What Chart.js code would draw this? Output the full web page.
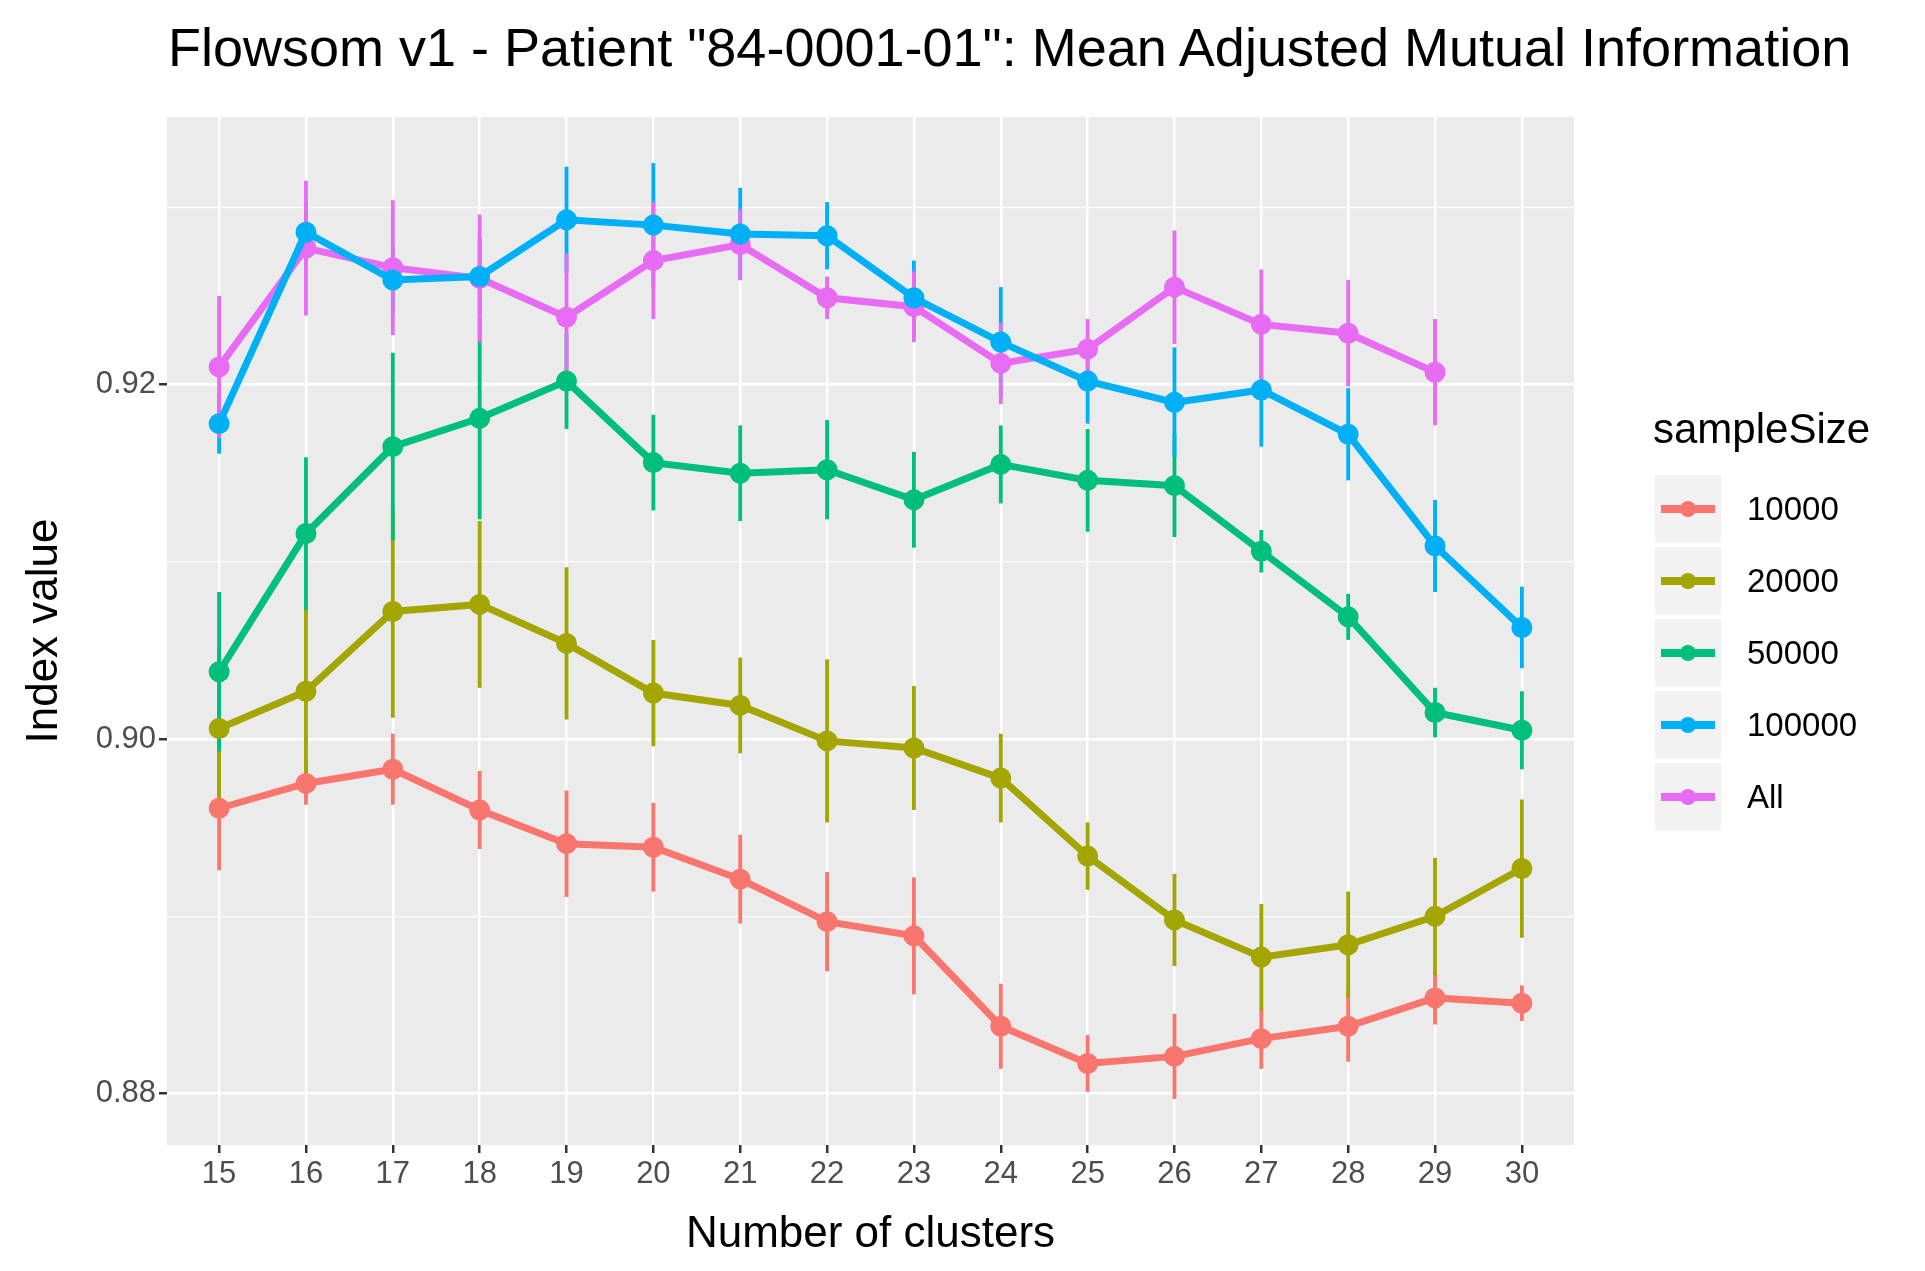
<!DOCTYPE html>
<html><head><meta charset="utf-8">
<script src="https://cdn.jsdelivr.net/npm/chart.js@4/dist/chart.umd.min.js"></script>
<style>
body{margin:0;background:#fff;font-family:"Liberation Sans",Arial,sans-serif}
#wrap{position:relative;width:1925px;height:1271px}
#title{position:absolute;left:168px;top:16px;font-size:54px;color:#000;white-space:nowrap}
#legend{position:absolute;left:1655px;top:405px}
#legend .hd{font-size:42px;margin-bottom:20px;margin-left:-2px}
#legend .row{display:flex;align-items:center;height:72px}
#legend .key{width:66px;height:68px;background:#f2f2f2;position:relative;margin-right:26px}
#legend .key i{position:absolute;left:6px;right:6px;top:30px;height:8px}
#legend .key b{position:absolute;left:25px;top:26px;width:16px;height:16px;border-radius:50%}
#legend span{font-size:33px}
</style></head><body>
<div id="wrap">
<canvas id="c" width="1925" height="1271"></canvas>
<div id="title">Flowsom v1 - Patient "84-0001-01": Mean Adjusted Mutual Information</div>
<div id="legend"></div>
</div>
<script>
const clusters = [15,16,17,18,19,20,21,22,23,24,25,26,27,28,29,30];
const seriesNames = ['10000','20000','50000','100000','All'];
const colors = ['#F8766D','#A3A500','#00BF7D','#00B0F6','#E76BF3'];
const mean10000 = [0.8961,0.8975,0.8983,0.8960,0.8941,0.8939,0.8921,0.8897,0.8889,0.8838,0.8817,0.8821,0.8831,0.8838,0.8854,0.8851];
const err10000  = [0.0035,0.0012,0.0020,0.0022,0.0030,0.0025,0.0025,0.0028,0.0033,0.0024,0.0016,0.0024,0.0017,0.0020,0.0015,0.0010];
const mean20000 = [0.9006,0.9027,0.9072,0.9076,0.9054,0.9026,0.9019,0.8999,0.8995,0.8978,0.8934,0.8898,0.8877,0.8884,0.8900,0.8927];
const err20000  = [0.0045,0.0048,0.0060,0.0047,0.0043,0.0030,0.0027,0.0046,0.0035,0.0025,0.0019,0.0026,0.0030,0.0030,0.0033,0.0039];
const mean50000 = [0.9038,0.9116,0.9165,0.9181,0.9202,0.9156,0.9150,0.9152,0.9135,0.9155,0.9146,0.9143,0.9106,0.9069,0.9015,0.9005];
const err50000  = [0.0045,0.0043,0.0053,0.0057,0.0027,0.0027,0.0027,0.0028,0.0027,0.0022,0.0029,0.0029,0.0012,0.0013,0.0014,0.0022];
const mean100000 = [0.9178,0.9286,0.9259,0.9261,0.9293,0.9290,0.9285,0.9284,0.9249,0.9224,0.9202,0.9190,0.9197,0.9172,0.9109,0.9063];
const err100000  = [0.0017,0.0017,0.0020,0.0022,0.0030,0.0035,0.0026,0.0019,0.0021,0.0031,0.0024,0.0031,0.0032,0.0026,0.0026,0.0023];
const meanAll = [0.9210,0.9277,0.9266,0.9260,0.9238,0.9270,0.9279,0.9249,0.9244,0.9212,0.9220,0.9255,0.9234,0.9229,0.9207];
const errAll  = [0.0040,0.0038,0.0038,0.0036,0.0036,0.0033,0.0020,0.0012,0.0020,0.0023,0.0017,0.0032,0.0031,0.0030,0.0030];
const means = [mean10000,mean20000,mean50000,mean100000,meanAll];
const errs = [err10000,err20000,err50000,err100000,errAll];
const yTickLabels = {0.88:'0.88',0.90:'0.90',0.92:'0.92'};

const datasets = seriesNames.map((n,i)=>({
  label:n,
  data:means[i].map((v,j)=>({x:clusters[j],y:v,e:errs[i][j]})),
  borderColor:colors[i], backgroundColor:colors[i],
  borderWidth:7, pointRadius:7, pointHoverRadius:7, tension:0
}));

const panelBg = {
  id:'panelBg',
  beforeDraw(ch){const a=ch.chartArea,c=ch.ctx;c.save();c.fillStyle='#EBEBEB';c.fillRect(a.left,a.top,a.right-a.left,a.bottom-a.top);c.restore();}
};
const errorBars = {
  id:'errorBars',
  beforeDatasetsDraw(ch){
    const c=ch.ctx,x=ch.scales.x,y=ch.scales.y;
    c.save();c.lineWidth=3.8;
    ch.data.datasets.forEach(ds=>{
      c.strokeStyle=ds.borderColor;
      ds.data.forEach(p=>{
        const px=x.getPixelForValue(p.x);
        c.beginPath();c.moveTo(px,y.getPixelForValue(p.y-p.e));c.lineTo(px,y.getPixelForValue(p.y+p.e));c.stroke();
      });
    });
    c.restore();
  }
};

new Chart(document.getElementById('c'),{
  type:'line',
  data:{datasets},
  plugins:[panelBg,errorBars],
  options:{
    responsive:false,animation:false,
    layout:{padding:{top:117,right:351,left:0,bottom:0}},
    plugins:{legend:{display:false},title:{display:false},tooltip:{enabled:false}},
    scales:{
      x:{type:'linear',min:14.4,max:30.6,
        afterBuildTicks(s){s.ticks=clusters.map(v=>({value:v}));},
        afterFit(s){s.height=126;},
        grid:{color:'#ffffff',lineWidth:2.5,tickColor:'#333333',tickLength:8},
        border:{display:false},
        ticks:{color:'#4d4d4d',font:{family:'Liberation Sans',size:31},padding:3,maxRotation:0},
        title:{display:true,text:'Number of clusters',color:'#000',font:{family:'Liberation Sans',size:44},padding:{top:0,bottom:10}}
      },
      y:{min:0.8771,max:0.9351,
        afterBuildTicks(s){s.ticks=[0.88,0.89,0.90,0.91,0.92,0.93].map(v=>({value:v}));},
        afterFit(s){s.width=167;},
        grid:{
          color:'#ffffff',
          lineWidth:ctx=>yTickLabels[ctx.tick&&ctx.tick.value.toFixed(2)*1]?2.5:1.2,
          tickColor:ctx=>yTickLabels[ctx.tick&&ctx.tick.value.toFixed(2)*1]?'#333333':'rgba(0,0,0,0)',
          tickLength:8
        },
        border:{display:false},
        ticks:{color:'#4d4d4d',font:{family:'Liberation Sans',size:31},padding:3,
          callback:v=>yTickLabels[(+v).toFixed(2)*1]||''},
        title:{display:true,text:'Index value',color:'#000',font:{family:'Liberation Sans',size:44},padding:{top:18,bottom:0}}
      }
    }
  }
});

const lg=document.getElementById('legend');
lg.innerHTML='<div class="hd">sampleSize</div>'+seriesNames.map((n,i)=>
 `<div class="row"><div class="key"><i style="background:${colors[i]}"></i><b style="background:${colors[i]}"></b></div><span>${n}</span></div>`).join('');
</script>
</body></html>
